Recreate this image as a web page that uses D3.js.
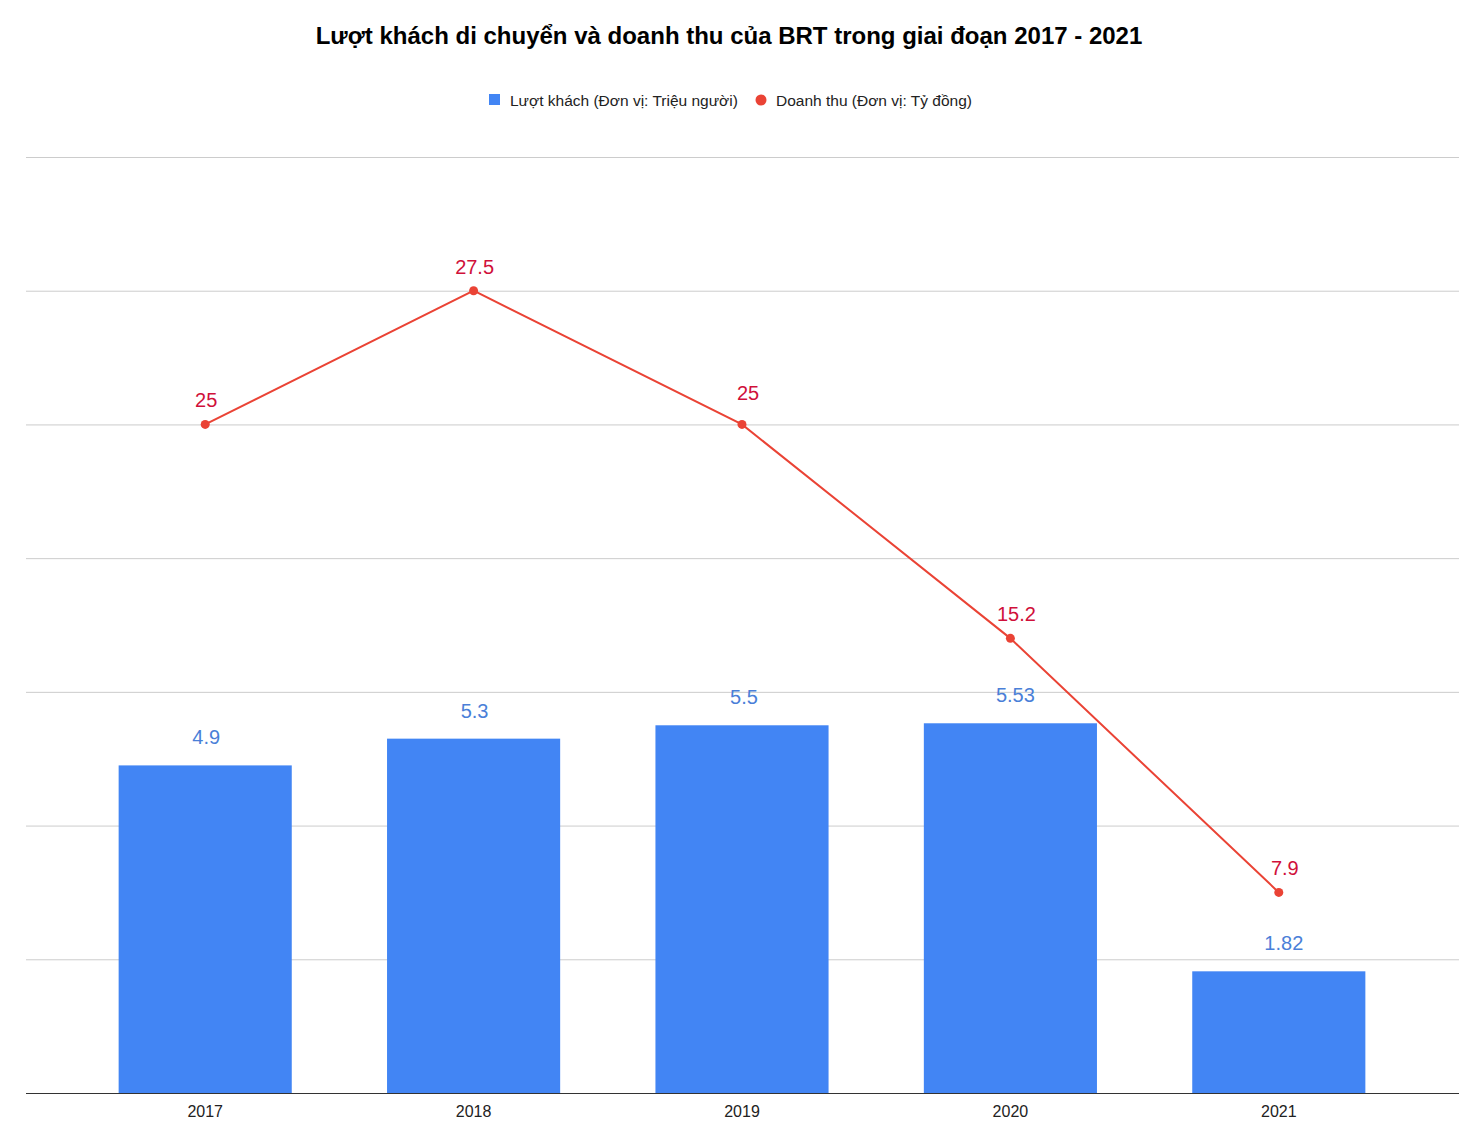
<!DOCTYPE html>
<html>
<head>
<meta charset="utf-8">
<script src="https://cdn.jsdelivr.net/npm/d3@7"></script>
<style>
  html, body { margin: 0; padding: 0; background: #fff; }
  svg { display: block; font-family: "Liberation Sans", Arial, sans-serif; }
</style>
</head>
<body>
<svg id="chart" width="1482" height="1146"></svg>
<script>
const title = "Lượt khách di chuyển và doanh thu của BRT trong giai đoạn 2017 - 2021";
const years = ["2017", "2018", "2019", "2020", "2021"];
const passengers = [4.9, 5.3, 5.5, 5.53, 1.82];
const passengerLabels = ["4.9", "5.3", "5.5", "5.53", "1.82"];
// revenue as positioned on the chart (right axis 0–35) and as labelled
const revenue = [25, 30, 25, 17, 7.5];
const revenueLabels = ["25", "27.5", "25", "15.2", "7.9"];
const legendNames = ["Lượt khách (Đơn vị: Triệu người)", "Doanh thu (Đơn vị: Tỷ đồng)"];
const leftDomain = [0, 14];
const rightDomain = [0, 35];
const gridCount = 7;

const svg = d3.select("#chart");
const plotLeft = 26, plotRight = 1459, plotTop = 157, plotBottom = 1093;

const x = d3.scaleBand().domain(years).range([71, 1413]).paddingInner(0.355).paddingOuter(0.1775);
const yL = d3.scaleLinear().domain(leftDomain).range([plotBottom, plotTop]);
const yR = d3.scaleLinear().domain(rightDomain).range([plotBottom, plotTop]);

// title
svg.append("text").attr("x", 729).attr("y", 44).attr("text-anchor", "middle")
  .attr("font-size", 24).attr("font-weight", "bold").attr("fill", "#000").text(title);

// legend
const lg = svg.append("g");
lg.append("rect").attr("x", 489).attr("y", 94).attr("width", 11).attr("height", 11).attr("fill", "#4285f4");
lg.append("text").attr("x", 510).attr("y", 106).attr("font-size", 15.5).attr("fill", "#222").text(legendNames[0]);
lg.append("circle").attr("cx", 761).attr("cy", 100).attr("r", 5.5).attr("fill", "#ea4335");
lg.append("text").attr("x", 776).attr("y", 106).attr("font-size", 15.5).attr("fill", "#222").text(legendNames[1]);

// gridlines
const gridTicks = d3.range(1, gridCount + 1).map(i => leftDomain[0] + i * (leftDomain[1] - leftDomain[0]) / gridCount);
svg.append("g").selectAll("line").data(gridTicks).join("line")
  .attr("x1", plotLeft).attr("x2", plotRight)
  .attr("y1", d => yL(d) + 0.5).attr("y2", d => yL(d) + 0.5)
  .attr("stroke", "#cccccc").attr("stroke-width", 1);

// bars
svg.append("g").selectAll("rect").data(passengers).join("rect")
  .attr("x", (d, i) => x(years[i]))
  .attr("y", d => yL(d))
  .attr("width", x.bandwidth())
  .attr("height", d => yL(0) - yL(d))
  .attr("fill", "#4285f4");

// bar labels (small horizontal nudge like the original renderer)
const barNudge = i => (i >= 3 ? 5 : i === 2 ? 2 : 1);
svg.append("g").selectAll("text").data(passengers).join("text")
  .attr("x", (d, i) => x(years[i]) + x.bandwidth() / 2 + barNudge(i))
  .attr("y", d => yL(d) - 21)
  .attr("text-anchor", "middle").attr("font-size", 20).attr("fill", "#4a7fd8")
  .text((d, i) => passengerLabels[i]);

// baseline
svg.append("line").attr("x1", plotLeft).attr("x2", plotRight)
  .attr("y1", plotBottom + 0.5).attr("y2", plotBottom + 0.5)
  .attr("stroke", "#333").attr("stroke-width", 1);

// x axis labels
const xAxis = d3.axisBottom(x).tickSize(0).tickPadding(13);
const xg = svg.append("g").attr("transform", `translate(0,${plotBottom})`).call(xAxis);
xg.select(".domain").remove();
xg.selectAll("text").attr("font-size", 16).attr("fill", "#222").attr("font-family", "Liberation Sans, Arial, sans-serif");

// revenue line
const cx = i => x(years[i]) + x.bandwidth() / 2;
const line = d3.line().x((d, i) => cx(i)).y(d => yR(d));
svg.append("path").datum(revenue).attr("d", line)
  .attr("fill", "none").attr("stroke", "#ea4335").attr("stroke-width", 2);
svg.append("g").selectAll("circle").data(revenue).join("circle")
  .attr("cx", (d, i) => cx(i)).attr("cy", d => yR(d)).attr("r", 4.5).attr("fill", "#ea4335");
const revNudge = i => (i >= 2 ? 6 : 1);
svg.append("g").selectAll("text").data(revenue).join("text")
  .attr("x", (d, i) => cx(i) + revNudge(i))
  .attr("y", (d, i) => yR(d) - (i === 2 ? 24 : 17))
  .attr("text-anchor", "middle").attr("font-size", 20).attr("fill", "#d0103a")
  .text((d, i) => revenueLabels[i]);
</script>
</body>
</html>
